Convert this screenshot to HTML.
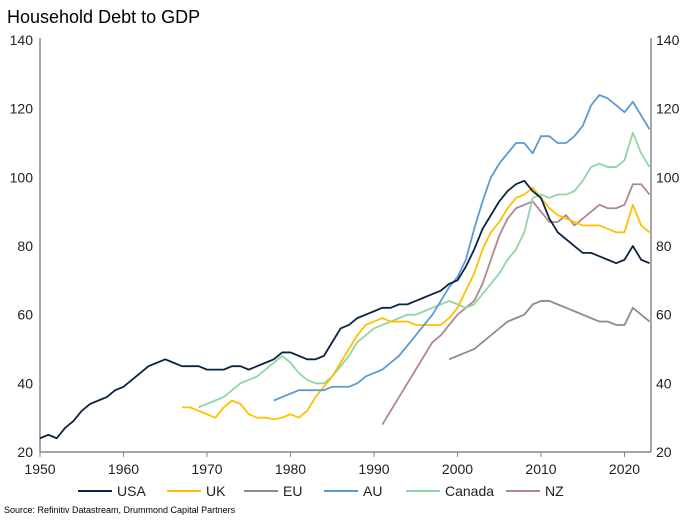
<!DOCTYPE html>
<html><head><meta charset="utf-8"><style>
body{margin:0;background:#fff;font-family:"Liberation Sans",sans-serif}
</style></head><body>
<svg id="c" width="689" height="517" xmlns="http://www.w3.org/2000/svg" font-family="Liberation Sans, sans-serif">
<text x="7" y="23" font-size="18" fill="#000">Household Debt to GDP</text>
<text x="4" y="513" font-size="9" fill="#000">Source: Refinitiv Datastream, Drummond Capital Partners</text>
<g id="axes"></g><g id="lines"></g><g id="legend"></g>
</svg>
<script>
const yTicks=[20,40,60,80,100,120,140];
const xTicks=[1950,1960,1970,1980,1990,2000,2010,2020];
const seriesNames=["USA","UK","EU","AU","Canada","NZ"];
const seriesColors=["#0c2343","#ffc000","#8c8c8c","#5b9bd5","#92d5a2","#b0878f"];
const usaStart=1950;
const usa=[24,25,24,27,29,32,34,35,36,38,39,41,43,45,46,47,46,45,45,45,44,44,44,45,45,44,45,46,47,49,49,48,47,47,48,52,56,57,59,60,61,62,62,63,63,64,65,66,67,69,70,74,79,85,89,93,96,98,99,96,94,88,84,82,80,78,78,77,76,75,76,80,76,75];
const ukStart=1967;
const uk=[33,33,32,31,30,33,35,34,31,30,30,29.5,30,31,30,32,36,39,42,46,50,54,57,58,59,58,58,58,57,57,57,57,59,62,67,72,79,84,87,91,94,95,97,94,91,89,88,87,86,86,86,85,84,84,92,86,84];
const euStart=1999;
const eu=[47,48,49,50,52,54,56,58,59,60,63,64,64,63,62,61,60,59,58,58,57,57,62,60,58];
const auStart=1978;
const au=[35,36,37,38,38,38,38,39,39,39,40,42,43,44,46,48,51,54,57,60,64,68,71,76,85,93,100,104,107,110,110,107,112,112,110,110,112,115,121,124,123,121,119,122,118,114];
const caStart=1969;
const ca=[33,34,35,36,38,40,41,42,44,46,48,46,43,41,40,40,42,45,48,52,54,56,57,58,59,60,60,61,62,63,64,63,62,63,66,69,72,76,79,84,94,95,94,95,95,96,99,103,104,103,103,105,113,107,103];
const nzStart=1991;
const nz=[28,32,36,40,44,48,52,54,57,60,62,64,69,76,83,88,91,92,93,90,87,87,89,86,88,90,92,91,91,92,98,98,95];
const starts=[usaStart,ukStart,euStart,auStart,caStart,nzStart];
const values=[usa,uk,eu,au,ca,nz];
const X=y=>40+(y-1950)*8.35, Y=v=>452-(v-20)*3.433;
const NS="http://www.w3.org/2000/svg";
function mk(t,a,p){const e=document.createElementNS(NS,t);for(const k in a)e.setAttribute(k,a[k]);p.appendChild(e);return e;}
const ax=document.getElementById('axes');
let l=mk('line',{x1:40,y1:38,x2:40,y2:452,stroke:'#888','stroke-width':1.5},ax);


l=mk('line',{x1:651,y1:38,x2:651,y2:452,stroke:'#888','stroke-width':1.5},ax);


l=mk('line',{x1:40,y1:452,x2:651,y2:452,stroke:'#888','stroke-width':1.5},ax);


yTicks.forEach(v=>{
 let t=mk('text',{x:33,y:Y(v)+5,'font-size':14,'text-anchor':'end',fill:'#222'},ax);t.textContent=v;
 
 
 t=mk('text',{x:656,y:Y(v)+5,'font-size':14,fill:'#222'},ax);t.textContent=v;
 
 
});
xTicks.forEach(v=>{
 const tk=mk('line',{x1:X(v),y1:452,x2:X(v),y2:457,stroke:'#888'},ax);
 
 
 const t=mk('text',{x:X(v),y:474,'font-size':14,'text-anchor':'middle',fill:'#222'},ax);t.textContent=v;
 
 
});
const lg=document.getElementById('lines');
[2,5,4,1,3,0].forEach(i=>{
 const pts=values[i].map((v,j)=>X(starts[i]+j)+','+Y(v)).join(' ');
 const p=mk('polyline',{points:pts,fill:'none',stroke:seriesColors[i],'stroke-width':1.8,'stroke-linejoin':'round'},lg);
 
 
});
const leg=document.getElementById('legend');
const lx=[78,167,244,324,406,506];
seriesNames.forEach((n,i)=>{
 const g=mk('g',{},leg);
 
 
 mk('line',{x1:lx[i],y1:491,x2:lx[i]+34,y2:491,stroke:seriesColors[i],'stroke-width':2},g);
 const t=mk('text',{x:lx[i]+39,y:496,'font-size':14,fill:'#222'},g);t.textContent=n;
});
</script>
</body></html>
